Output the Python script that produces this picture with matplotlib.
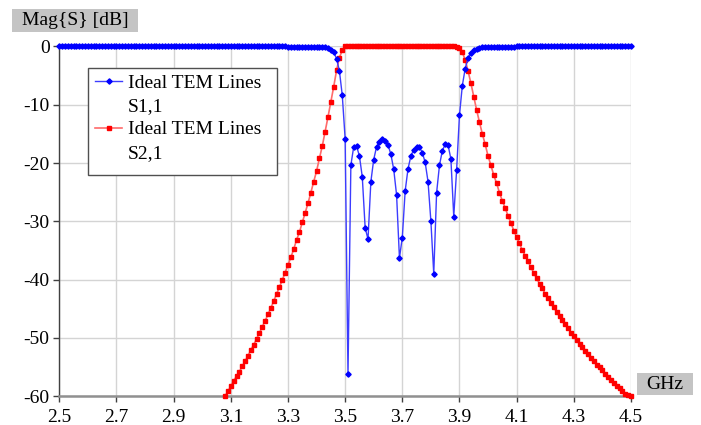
import numpy as np
from matplotlib import pyplot as plt
from matplotlib.lines import Line2D
from matplotlib.patches import Rectangle

# frequency sweep (GHz), 10 MHz step
freq_start = 2.5
freq_stop = 4.5
n_points = 201

# S1,1 magnitude (dB), 2.50 .. 4.50 GHz
s11_db = [
    0.0, 0.0, 0.0, 0.0, 0.0, 0.0, 0.0, 0.0, 0.0, 0.0,
    0.0, 0.0, 0.0, 0.0, 0.0, 0.0, 0.0, 0.0, 0.0, 0.0,
    0.0, 0.0, 0.0, 0.0, 0.0, 0.0, 0.0, 0.0, 0.0, 0.0,
    0.0, 0.0, 0.0, 0.0, 0.0, 0.0, 0.0, 0.0, 0.0, 0.0,
    0.0, 0.0, 0.0, 0.0, 0.0, 0.0, 0.0, 0.0, 0.0, 0.0,
    0.0, 0.0, 0.0, 0.0, 0.0, 0.0, 0.0, 0.0, 0.0, 0.0,
    0.0, 0.0, 0.0, 0.0, 0.0, 0.0, 0.0, 0.0, 0.0, 0.0,
    0.0, 0.0, 0.0, 0.0, 0.0, 0.0, 0.0, 0.0, 0.0, 0.0,
    -0.001, -0.001, -0.002, -0.002, -0.003, -0.004, -0.006, -0.009, -0.013, -0.021,
    -0.03, -0.05, -0.09, -0.15, -0.28, -0.52, -0.95, -2.1, -4.2, -8.4,
    -15.8, -56.3, -20.4, -17.2, -17.1, -18.8, -22.4, -31.1, -33.1, -23.2,
    -19.4, -17.2, -16.4, -15.9, -16.2, -16.9, -18.5, -21.1, -25.5, -36.3,
    -32.8, -24.8, -21.0, -18.8, -17.7, -17.2, -17.3, -18.2, -19.9, -23.2,
    -30.0, -39.0, -25.1, -20.4, -17.9, -16.8, -16.9, -19.3, -29.2, -21.2,
    -11.8, -6.7, -3.8, -2.0, -1.1, -0.6, -0.35, -0.2, -0.13, -0.08,
    -0.05, -0.03, -0.02, -0.015, -0.01, -0.008, -0.006, -0.005, -0.004, -0.003,
    0.0, 0.0, 0.0, 0.0, 0.0, 0.0, 0.0, 0.0, 0.0, 0.0,
    0.0, 0.0, 0.0, 0.0, 0.0, 0.0, 0.0, 0.0, 0.0, 0.0,
    0.0, 0.0, 0.0, 0.0, 0.0, 0.0, 0.0, 0.0, 0.0, 0.0,
    0.0, 0.0, 0.0, 0.0, 0.0, 0.0, 0.0, 0.0, 0.0, 0.0,
    0.0,
]

# S2,1 magnitude (dB), 3.08 .. 4.50 GHz (below -60 dB before that)
s21_db = [
    -60.0, -59.2,
    -58.3, -57.4, -56.6, -55.8, -54.9, -54.0, -53.1, -52.1, -51.2, -50.2,
    -49.2, -48.1, -47.1, -46.0, -44.9, -43.7, -42.5, -41.3, -40.1, -38.8,
    -37.5, -36.2, -34.8, -33.2, -31.9, -30.2, -28.6, -26.9, -25.1, -23.2,
    -21.4, -19.2, -17.1, -14.6, -12.1, -9.5, -6.9, -4.1, -1.9, -0.65,
    0.0, 0.0, 0.0, 0.0, 0.0, 0.0, 0.0, 0.0, 0.0, 0.0,
    0.0, 0.0, 0.0, 0.0, 0.0, 0.0, 0.0, 0.0, 0.0, 0.0,
    0.0, 0.0, 0.0, 0.0, 0.0, 0.0, 0.0, 0.0, 0.0, 0.0,
    0.0, 0.0, 0.0, 0.0, 0.0, 0.0, 0.0, 0.0, 0.0, -0.03,
    -0.3, -1.0, -2.3, -4.2, -6.3, -8.6, -10.9, -13.0, -15.0, -16.8,
    -18.8, -20.4, -22.1, -23.5, -25.1, -26.5, -27.7, -29.1, -30.3, -31.6,
    -32.7, -33.8, -35.0, -35.9, -36.9, -37.9, -38.9, -39.8, -40.7, -41.5,
    -42.5, -43.2, -44.1, -44.8, -45.6, -46.3, -47.0, -47.7, -48.4, -49.1,
    -49.7, -50.4, -51.0, -51.6, -52.3, -52.8, -53.5, -54.0, -54.6, -55.1,
    -55.6, -56.2, -56.7, -57.2, -57.8, -58.2, -58.7, -59.1, -59.6, -59.8,
    -60.0,
]

x_ticks = [2.5, 2.7, 2.9, 3.1, 3.3, 3.5, 3.7, 3.9, 4.1, 4.3, 4.5]
y_ticks = [0, -10, -20, -30, -40, -50, -60]

plt.rcParams['font.family'] = ['Liberation Serif', 'DejaVu Serif']
plt.rcParams['font.size'] = 14
plt.rcParams['axes.unicode_minus'] = False

W, H = 701, 425


def fig_box(x0, y0, x1, y1, **kw):
    # rectangle given in pixel coords from top-left of the figure
    return Rectangle((x0 / W, 1 - y1 / H), (x1 - x0) / W, (y1 - y0) / H,
                     transform=fig.transFigure, clip_on=False, **kw)


freq = np.linspace(freq_start, freq_stop, n_points)
freq_s21 = freq[-len(s21_db):]

fig = plt.figure(figsize=(W / 100, H / 100), dpi=100)
ax = fig.add_axes([0.0846, 0.0682, 0.8155, 0.8224])

ax.plot(freq_s21, s21_db, color='#ff6a6a', lw=1.2, marker='s', ms=3.3,
        mfc='#ff0000', mec='#ff0000', clip_on=False, zorder=3)
ax.plot(freq, s11_db, color='#3c3cff', lw=1.0, marker='D', ms=2.7,
        mfc='#0000ff', mec='#0000ff', clip_on=False, zorder=4)

ax.set_xlim(2.5, 4.5)
ax.set_ylim(-60, 0)
ax.set_xticks(x_ticks)
ax.set_xticklabels(['%.1f' % t for t in x_ticks])
ax.set_yticks(y_ticks)
ax.set_yticklabels([str(t) for t in y_ticks])
ax.grid(True, color='#d4d4d4', lw=1.0)
ax.set_axisbelow(True)

for side in ['top', 'right']:
    ax.spines[side].set_visible(False)
ax.spines['left'].set_color('#404040')
ax.spines['left'].set_linewidth(1.0)
ax.spines['bottom'].set_color('#909090')
ax.spines['bottom'].set_linewidth(1.8)
ax.tick_params(axis='both', direction='out', length=4, width=1.0, color='#404040', labelsize=14)
ax.tick_params(axis='y', pad=3)
ax.tick_params(axis='x', pad=5)

# legend: marker line beside first text line, second line without handle
blue_h = Line2D([], [], color='#3c3cff', lw=1.0, marker='D', ms=2.7, mfc='#0000ff', mec='#0000ff')
red_h = Line2D([], [], color='#ff6a6a', lw=1.2, marker='s', ms=3.3, mfc='#ff0000', mec='#ff0000')
blank = Line2D([], [], color='none')
ax.add_patch(fig_box(88, 68, 277, 175, fc='white', ec='#505050', lw=1.0, zorder=5))
leg = ax.legend([blue_h, blank, red_h, blank],
                ['Ideal TEM Lines', 'S1,1', 'Ideal TEM Lines', 'S2,1'],
                loc='upper left', bbox_to_anchor=(93 / W, 1 - 72 / H),
                bbox_transform=fig.transFigure, fontsize=14, frameon=False,
                handlelength=1.4, handletextpad=0.3, labelspacing=0.3,
                borderpad=0.1, borderaxespad=0)
leg.set_zorder(6)

fig.patches.append(fig_box(12, 9, 138, 32, fc='#c4c4c4', ec='none'))
fig.text(75 / W, 1 - 20.5 / H, 'Mag{S} [dB]', ha='center', va='center', fontsize=14)
fig.patches.append(fig_box(637, 373, 693, 395, fc='#c4c4c4', ec='none'))
fig.text(665 / W, 1 - 384.5 / H, 'GHz', ha='center', va='center', fontsize=14)

fig.savefig('out.png', dpi=100)
